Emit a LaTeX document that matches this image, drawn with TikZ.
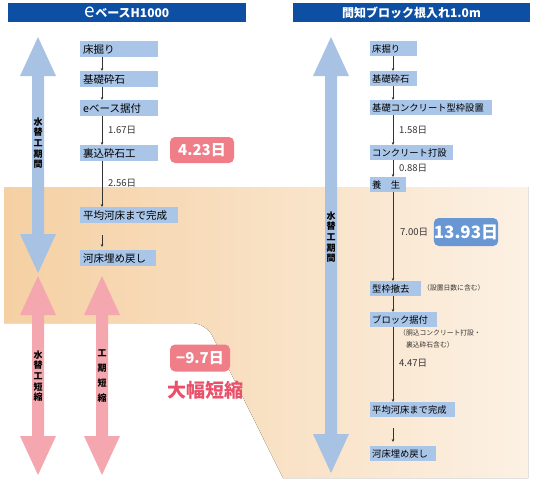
\documentclass[tikz,border=0pt]{standalone}
\usepackage{fontspec}
\setmainfont{Noto Sans CJK JP}
\usetikzlibrary{arrows.meta}

\definecolor{hdrblue}{HTML}{0D4FA3}
\definecolor{boxblue}{HTML}{A9C5E8}
\definecolor{arrowblue}{HTML}{A8C2E4}
\definecolor{pinkarrow}{HTML}{F5A7B0}
\definecolor{pinkbox}{HTML}{EF7E89}
\definecolor{pinktext}{HTML}{E9506A}
\definecolor{daysblue}{HTML}{6897D3}
\definecolor{peachL}{HTML}{F5D0A3}
\definecolor{peachR}{HTML}{FCF1E4}

\tikzset{
  header/.style={fill=hdrblue,text=white,inner sep=0pt,minimum height=19pt,font=\bfseries\fontsize{12}{12}\selectfont},
  stepL/.style={fill=boxblue,anchor=north west,inner xsep=3pt,inner ysep=0pt,minimum height=16pt,align=left,font=\fontsize{10.5}{12}\selectfont},
  stepR/.style={fill=boxblue,anchor=north west,inner xsep=2pt,inner ysep=0pt,minimum height=15pt,align=left,font=\fontsize{9.3}{11}\selectfont},
  flow/.style={-{Stealth[length=3pt,width=2.6pt]},draw=black!80,line width=0.5pt},
  days/.style={anchor=west,inner sep=0pt,font=\fontsize{9.5}{10}\selectfont,text=black!80},
  note/.style={anchor=west,inner sep=0pt,align=left,font=\fontsize{6.8}{12}\selectfont,text=black!80},
  vtext/.style={align=center,inner sep=0pt,font=\bfseries\fontsize{9}{10.6}\selectfont},
  total/.style={rounded corners=5pt,text=white,inner sep=0pt,font=\bfseries\fontsize{15}{15}\selectfont}
}

% big double arrow: x, top tip, bottom tip, colour
\newcommand{\bigarrow}[4]{%
  \fill[#4] (#1,#2) -- (#1+18,#2+39) -- (#1+6,#2+39) -- (#1+6,#3-39) -- (#1+18,#3-39)
    -- (#1,#3) -- (#1-18,#3-39) -- (#1-6,#3-39) -- (#1-6,#2+39) -- (#1-18,#2+39) -- cycle;}

\begin{document}
\begin{tikzpicture}[x=1pt,y=-1pt]
  \useasboundingbox (0,0) rectangle (535,480);

  % background
  \fill[left color=peachL,right color=peachR] (4,187) -- (528,187) -- (528,478) -- (283,478)
    [rounded corners=14pt] -- (206,323) [sharp corners] -- (4,323) -- cycle;

  % headers
  \node[header,minimum width=238pt] (hl) at (127,12.5) {{\mdseries\fontsize{19}{12}\selectfont e}ベースH1000};
  \node[header,minimum width=237pt] (hr) at (411.5,12.5) {間知ブロック根入れ1.0m};

  % big arrows
  \bigarrow{38}{37}{273}{arrowblue}
  \bigarrow{331}{37}{473}{arrowblue}
  \bigarrow{38}{276}{475}{pinkarrow}
  \bigarrow{102}{276}{475}{pinkarrow}
  \node[vtext] (wl) at (38,143) {水\\替\\工\\期\\間};
  \node[vtext] (wr) at (331,237) {水\\替\\工\\期\\間};
  \node[vtext] (sl) at (38,376) {水\\替\\工\\短\\縮};
  \node[vtext,font=\bfseries\fontsize{9}{15}\selectfont] (sr) at (102,376) {工\\期\\短\\縮};

  % left steps
  \node[stepL,text width=72pt] (l1) at (80,41) {床掘り};
  \node[stepL,text width=72pt] (l2) at (80,71) {基礎砕石};
  \node[stepL,text width=72pt] (l3) at (80,100) {eベース据付};
  \node[stepL,text width=72pt] (l4) at (80,145) {裏込砕石工};
  \node[stepL,text width=92pt] (l5) at (80,207) {平均河床まで完成};
  \node[stepL,text width=70pt] (l6) at (80,250) {河床埋め戻し};
  \draw[flow] ([xshift=22pt]l1.south west) -- ([xshift=22pt]l2.north west);
  \draw[flow] ([xshift=22pt]l2.south west) -- ([xshift=22pt]l3.north west);
  \draw[flow] ([xshift=22pt]l3.south west) -- ([xshift=22pt]l4.north west);
  \draw[flow] ([xshift=22pt]l4.south west) -- ([xshift=22pt]l5.north west);
  \draw[flow] ([xshift=22pt,yshift=-12pt]l5.south west) -- ([xshift=22pt,yshift=3pt]l6.north west);
  \node[days] (d1) at (108,130) {1.67日};
  \node[days] (d2) at (108,183) {2.56日};

  % right steps
  \node[stepR,text width=43pt] (r1) at (370,41) {床掘り};
  \node[stepR,text width=43pt] (r2) at (370,71) {基礎砕石};
  \node[stepR,text width=118pt] (r3) at (370,100) {基礎コンクリート型枠設置};
  \node[stepR,text width=79pt] (r4) at (370,145) {コンクリート打設};
  \node[stepR,text width=32pt] (r5) at (370,177) {養　生};
  \node[stepR,text width=47pt] (r6) at (370,281) {型枠撤去};
  \node[stepR,text width=63pt] (r7) at (370,312) {ブロック据付};
  \node[stepR,text width=81pt] (r8) at (370,402) {平均河床まで完成};
  \node[stepR,text width=62pt] (r9) at (370,446) {河床埋め戻し};
  \draw[flow] ([xshift=23pt]r1.south west) -- ([xshift=23pt]r2.north west);
  \draw[flow] ([xshift=23pt]r2.south west) -- ([xshift=23pt]r3.north west);
  \draw[flow] ([xshift=23pt]r3.south west) -- ([xshift=23pt]r4.north west);
  \draw[flow] ([xshift=23pt]r4.south west) -- ([xshift=23pt]r5.north west);
  \draw[flow] ([xshift=23pt]r5.south west) -- ([xshift=23pt]r6.north west);
  \draw[flow] ([xshift=23pt]r6.south west) -- ([xshift=23pt]r7.north west);
  \draw[flow] ([xshift=23pt]r7.south west) -- ([xshift=23pt]r8.north west);
  \draw[flow] ([xshift=23pt,yshift=-11pt]r8.south west) -- ([xshift=23pt,yshift=4pt]r9.north west);
  \node[days] (d3) at (399,130) {1.58日};
  \node[days] (d4) at (399,168) {0.88日};
  \node[days] (d5) at (400,232) {7.00日};
  \node[days] (d6) at (399,363) {4.47日};
  \node[note] (n1) at (423,288) {（設置日数に含む）};
  \node[note] (n2) at (399,339) {（胴込コンクリート打設・\\\phantom{（}裏込砕石含む）};

  % totals
  \node[total,fill=pinkbox,minimum width=64pt,minimum height=26pt] (t1) at (202,150) {4.23日};
  \node[total,fill=daysblue,minimum width=64pt,minimum height=28pt,font=\bfseries\fontsize{17}{17}\selectfont] (t2) at (466,232) {13.93日};
  \node[total,fill=pinkbox,minimum width=60pt,minimum height=27pt] (t3) at (200,358) {−9.7日};
  \node[text=pinktext,inner sep=0pt,font=\bfseries\fontsize{19}{19}\selectfont] (big) at (205,390) {大幅短縮};
\end{tikzpicture}
\end{document}
